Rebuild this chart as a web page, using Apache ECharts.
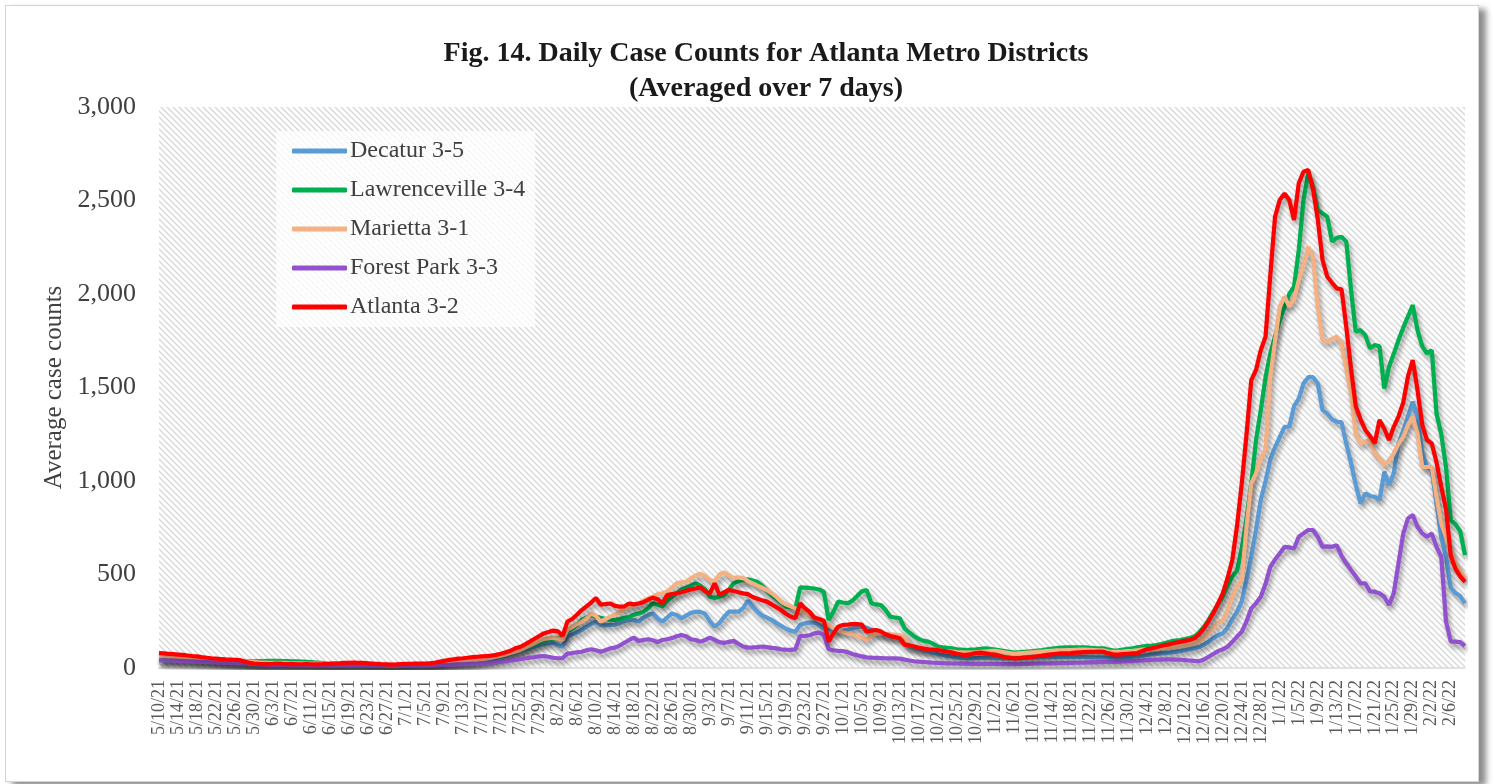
<!DOCTYPE html>
<html>
<head>
<meta charset="utf-8">
<script src="https://cdn.jsdelivr.net/npm/echarts@6/dist/echarts.min.js"></script>
<style>
  html, body { margin: 0; padding: 0; background: #fff; }
  #frame { position: absolute; left: 5px; top: 5px; width: 1472px; height: 775px; border: 1px solid #d4d4d4; box-shadow: 7px 4px 6px rgba(0,0,0,0.45); background: #fff; }
  #chart { position: absolute; left: 0; top: 0; width: 1494px; height: 784px; }
</style>
</head>
<body>
<div id="frame"></div>
<div id="chart"></div>
<script>
// daily values, 5/10/21 .. 2/9/22 (7-day averages)
const startDate = new Date(2021, 4, 10)
const dayCount = 276

const decatur = [
  50, 49, 48, 47, 46, 45, 44, 43, 42, 41,
  40, 38, 37, 35, 33, 31, 29, 27, 25, 23,
  22, 21, 20, 20, 19, 19, 19, 18, 18, 18,
  18, 17, 17, 17, 17, 16, 16, 16, 16, 16,
  16, 16, 15, 15, 15, 14, 14, 14, 14, 14,
  14, 14, 15, 15, 16, 16, 17, 18, 19, 21,
  23, 25, 27, 29, 31, 33, 35, 38, 41, 45,
  49, 54, 60, 66, 73, 80, 88, 96, 105, 114,
  122, 128, 132, 135, 120, 114, 171, 180, 190, 203,
  220, 235, 248, 230, 228, 230, 232, 240, 250, 257,
  257, 248, 270, 283, 292, 265, 248, 270, 292, 283,
  266, 280, 295, 301, 300, 290, 250, 221, 240, 274,
  301, 301, 301, 320, 361, 330, 301, 280, 270, 257,
  240, 225, 210, 200, 194, 230, 239, 243, 243, 230,
  212, 210, 205, 200, 200, 205, 212, 218, 221, 215,
  205, 195, 185, 178, 172, 168, 159, 150, 114, 108,
  100, 94, 88, 82, 76, 70, 65, 60, 56, 54,
  52, 52, 53, 54, 55, 54, 53, 52, 52, 52,
  52, 53, 54, 55, 56, 57, 58, 59, 60, 60,
  60, 60, 60, 60, 59, 58, 57, 56, 55, 55,
  55, 55, 56, 57, 58, 60, 62, 65, 68, 72,
  75, 78, 79, 82, 86, 90, 95, 100, 105, 112,
  125, 140, 160, 175, 185, 215, 260, 300, 358, 470,
  595, 738, 900, 1000, 1113, 1180, 1236, 1290, 1290, 1400,
  1440, 1522, 1555, 1555, 1522, 1379, 1361, 1330, 1317, 1315,
  1200, 1095, 980, 880, 934, 920, 916, 898, 1049, 979,
  1041, 1201, 1270, 1344, 1424, 1344, 1150, 1075, 1059, 880,
  700, 595, 430, 401, 385, 345
]

const lawrenceville = [
  42, 42, 41, 40, 40, 39, 38, 38, 37, 36,
  36, 35, 35, 34, 34, 33, 33, 33, 34, 35,
  36, 37, 37, 38, 38, 38, 37, 37, 36, 35,
  34, 33, 31, 29, 27, 25, 24, 23, 22, 22,
  21, 21, 20, 20, 19, 18, 17, 16, 16, 15,
  16, 17, 18, 18, 19, 20, 21, 23, 25, 27,
  30, 32, 34, 36, 38, 40, 42, 45, 48, 52,
  56, 60, 66, 72, 80, 88, 96, 105, 115, 125,
  135, 145, 152, 158, 160, 165, 195, 210, 230, 257,
  270, 283, 275, 268, 262, 258, 257, 262, 268, 272,
  285, 292, 300, 320, 346, 338, 330, 360, 380, 399,
  420, 430, 440, 453, 440, 420, 381, 375, 381, 390,
  420, 453, 465, 470, 474, 468, 461, 440, 415, 390,
  370, 350, 328, 325, 319, 431, 430, 428, 425, 420,
  407, 257, 300, 355, 350, 346, 360, 385, 410, 417,
  346, 340, 337, 310, 274, 270, 266, 212, 190, 170,
  155, 145, 141, 130, 115, 111, 108, 105, 100, 98,
  96, 98, 100, 103, 105, 102, 98, 94, 90, 86,
  82, 84, 86, 88, 90, 93, 96, 100, 104, 107,
  109, 110, 111, 111, 111, 110, 108, 106, 105, 105,
  98, 93, 95, 98, 102, 105, 110, 115, 118, 120,
  123, 128, 135, 142, 146, 150, 155, 160, 168, 190,
  220, 257, 300, 340, 381, 440, 490, 520, 640, 800,
  988, 1219, 1380, 1555, 1680, 1772, 1860, 1932, 2000, 2039,
  2235, 2503, 2645, 2574, 2450, 2431, 2413, 2280, 2300, 2306,
  2280, 2021, 1798, 1807, 1780, 1710, 1727, 1720, 1495, 1611,
  1680, 1754, 1820, 1880, 1941, 1807, 1720, 1682, 1700, 1361,
  1250, 1075, 791, 770, 730, 604
]

const marietta = [
  62, 60, 58, 57, 56, 55, 54, 53, 51, 49,
  47, 45, 43, 41, 40, 39, 38, 37, 36, 34,
  32, 30, 29, 28, 28, 27, 27, 26, 26, 25,
  25, 24, 24, 23, 23, 22, 22, 22, 21, 21,
  21, 20, 20, 19, 19, 18, 18, 17, 17, 17,
  17, 18, 18, 19, 19, 20, 21, 22, 24, 26,
  28, 30, 32, 34, 36, 38, 40, 43, 46, 50,
  55, 60, 66, 72, 80, 87, 95, 108, 120, 132,
  145, 155, 159, 162, 158, 150, 205, 220, 235, 248,
  265, 292, 278, 248, 262, 275, 283, 300, 315, 328,
  335, 345, 360, 372, 381, 395, 400, 408, 430, 453,
  458, 462, 480, 495, 504, 490, 470, 462, 500, 511,
  495, 481, 485, 481, 465, 453, 440, 430, 417, 400,
  380, 355, 340, 330, 319, 305, 295, 285, 274, 260,
  245, 230, 212, 200, 192, 185, 180, 170, 165, 150,
  172, 185, 185, 183, 180, 178, 175, 165, 123, 118,
  112, 108, 104, 100, 96, 92, 90, 88, 85, 84,
  82, 82, 84, 86, 88, 90, 92, 88, 84, 80,
  76, 78, 80, 82, 84, 86, 88, 90, 92, 94,
  95, 96, 96, 97, 98, 98, 97, 96, 95, 94,
  88, 86, 87, 88, 90, 92, 95, 98, 100, 102,
  104, 106, 108, 110, 114, 118, 122, 128, 135, 141,
  160, 185, 215, 240, 257, 310, 380, 440, 471, 760,
  988, 1041, 1120, 1168, 1555, 1750, 1932, 1986, 1932, 1970,
  2075, 2150, 2253, 2199, 1932, 1754, 1745, 1760, 1772, 1736,
  1600, 1468, 1254, 1201, 1210, 1219, 1147, 1120, 1084, 1110,
  1147, 1200, 1236, 1300, 1344, 1254, 1075, 1075, 1075, 916,
  773, 700, 630, 560, 520, 479
]

const forestPark = [
  42, 41, 40, 39, 38, 37, 36, 35, 34, 33,
  32, 31, 30, 29, 28, 27, 26, 25, 24, 22,
  20, 19, 18, 17, 17, 16, 16, 16, 15, 15,
  15, 15, 14, 14, 14, 14, 13, 13, 13, 13,
  13, 13, 12, 12, 12, 12, 12, 12, 11, 11,
  11, 11, 12, 12, 12, 12, 13, 13, 14, 15,
  16, 17, 18, 19, 20, 21, 22, 23, 25, 27,
  29, 31, 34, 37, 40, 43, 47, 51, 55, 58,
  62, 64, 60, 55, 52, 53, 77, 80, 84, 87,
  95, 100, 95, 87, 95, 105, 109, 120, 135, 150,
  162, 145, 150, 154, 148, 138, 150, 154, 160, 170,
  177, 170, 154, 150, 141, 150, 162, 150, 138, 134,
  140, 145, 130, 115, 109, 110, 112, 115, 112, 108,
  105, 100, 98, 97, 100, 171, 172, 175, 185, 189,
  177, 100, 95, 92, 91, 85, 75, 68, 62, 57,
  55, 54, 53, 52, 52, 51, 50, 45, 40, 36,
  34, 32, 30, 28, 27, 26, 25, 24, 24, 23,
  23, 22, 22, 22, 22, 22, 22, 21, 21, 21,
  21, 21, 22, 22, 23, 23, 24, 24, 25, 25,
  26, 26, 27, 28, 28, 29, 30, 30, 31, 32,
  32, 33, 34, 35, 36, 37, 38, 40, 42, 43,
  44, 45, 46, 46, 45, 44, 42, 40, 38, 36,
  45, 60, 75, 90, 100, 114, 140, 168, 194, 250,
  319, 346, 381, 450, 541, 580, 613, 648, 645, 639,
  702, 720, 738, 738, 702, 648, 650, 648, 657, 600,
  560, 524, 490, 453, 453, 410, 408, 400, 381, 337,
  400, 560, 720, 800, 818, 755, 720, 702, 720, 648,
  595, 250, 141, 141, 138, 118
]

const atlanta = [
  80, 78, 76, 74, 72, 70, 67, 64, 62, 58,
  55, 52, 50, 48, 46, 45, 44, 42, 35, 28,
  24, 22, 21, 21, 22, 24, 22, 21, 22, 20,
  20, 21, 20, 19, 20, 21, 22, 24, 25, 27,
  28, 29, 28, 27, 25, 23, 22, 20, 19, 18,
  19, 21, 22, 22, 23, 23, 24, 25, 28, 33,
  38, 43, 46, 50, 52, 55, 58, 60, 62, 64,
  66, 70, 76, 84, 92, 105, 112, 125, 140, 155,
  170, 185, 192, 200, 196, 172, 248, 262, 285, 310,
  330, 350, 374, 338, 342, 345, 332, 328, 330, 345,
  340, 345, 352, 365, 376, 368, 346, 390, 395, 400,
  405, 413, 420, 425, 431, 410, 399, 453, 392, 405,
  417, 412, 405, 399, 395, 380, 370, 362, 355, 340,
  325, 310, 290, 275, 266, 346, 320, 300, 268, 262,
  253, 141, 185, 221, 230, 232, 235, 235, 232, 194,
  200, 203, 195, 180, 171, 165, 159, 125, 122, 115,
  108, 104, 100, 98, 96, 92, 88, 82, 76, 72,
  70, 74, 80, 82, 78, 74, 72, 65, 58, 54,
  52, 52, 55, 57, 60, 63, 66, 70, 73, 76,
  78, 79, 80, 82, 84, 85, 86, 87, 88, 86,
  78, 72, 72, 74, 76, 78, 80, 90, 100, 105,
  111, 118, 124, 128, 135, 140, 145, 150, 159, 180,
  210, 250, 293, 345, 399, 480, 578, 760, 988, 1250,
  1540, 1594, 1700, 1772, 2100, 2413, 2503, 2538, 2503, 2396,
  2592, 2654, 2663, 2560, 2400, 2182, 2092, 2060, 2030, 2025,
  1825, 1600, 1400, 1330, 1273, 1240, 1201, 1326, 1280, 1219,
  1290, 1344, 1420, 1560, 1647, 1487, 1300, 1219, 1201, 1100,
  970, 850, 600, 530, 490, 461
]

const seriesNames = ['Decatur 3-5', 'Lawrenceville 3-4', 'Marietta 3-1', 'Forest Park 3-3', 'Atlanta 3-2']
const seriesData = [decatur, lawrenceville, marietta, forestPark, atlanta]
const seriesColors = ['#5B9BD5', '#00B050', '#F4B183', '#9252D0', '#FF0000']

const categories = []
for (let i = 0; i < dayCount; i++) {
  const d = new Date(startDate.getTime() + i * 86400000)
  categories.push((d.getMonth() + 1) + '/' + d.getDate() + '/' + String(d.getFullYear()).slice(2))
}

// hatched plot background
function hatchPattern() {
  const c = document.createElement('canvas')
  c.width = 6; c.height = 6
  const g = c.getContext('2d')
  g.fillStyle = '#ffffff'
  g.fillRect(0, 0, 6, 6)
  g.strokeStyle = '#d6d6d6'
  g.lineWidth = 1.3
  g.beginPath()
  g.moveTo(-1, -1); g.lineTo(7, 7)
  g.moveTo(-1, 5); g.lineTo(1, 7)
  g.moveTo(5, -1); g.lineTo(7, 1)
  g.stroke()
  return { image: c, repeat: 'repeat' }
}

const FONT = '"Liberation Serif", "DejaVu Serif", serif'
const chart = echarts.init(document.getElementById('chart'))

chart.setOption({
  animation: false,
  title: {
    text: 'Fig. 14. Daily Case Counts for Atlanta Metro Districts\n(Averaged over 7 days)',
    left: 761,
    top: 31,
    textAlign: 'center',
    textStyle: { fontFamily: FONT, fontSize: 28, fontWeight: 'bold', color: '#1a1a1a', lineHeight: 35 }
  },
  legend: {
    orient: 'vertical',
    left: 276,
    top: 131,
    padding: [8, 10, 8, 16],
    backgroundColor: 'rgba(255,255,255,0.75)',
    icon: 'roundRect',
    itemWidth: 55,
    itemHeight: 5,
    itemGap: 15,
    textStyle: { fontFamily: FONT, fontSize: 24, color: '#404040', lineHeight: 24, padding: [0, 0, 0, -2] },
    data: seriesNames
  },
  grid: {
    left: 159, top: 107, width: 1306, height: 561,
    show: true, borderWidth: 0,
    backgroundColor: hatchPattern()
  },
  xAxis: {
    type: 'category',
    data: categories,
    boundaryGap: false,
    axisLine: { lineStyle: { color: '#d9d9d9', width: 1.5 } },
    axisTick: { show: false },
    axisLabel: { interval: 3, rotate: 90, margin: 12, fontFamily: FONT, fontSize: 18, color: '#595959' },
    splitLine: { show: false }
  },
  yAxis: {
    type: 'value',
    min: 0, max: 3000, interval: 500,
    name: 'Average case counts',
    nameLocation: 'middle',
    nameGap: 84,
    nameTextStyle: { fontFamily: FONT, fontSize: 25, color: '#404040' },
    axisLine: { show: false },
    axisTick: { show: false },
    splitLine: { show: false },
    axisLabel: {
      margin: 23, fontFamily: FONT, fontSize: 26, color: '#404040',
      formatter: v => v.toLocaleString('en-US')
    }
  },
  series: seriesNames.map((name, k) => ({
    name: name,
    type: 'line',
    data: seriesData[k],
    symbol: 'none',
    color: seriesColors[k],
    lineStyle: {
      width: 4.2, color: seriesColors[k],
      shadowColor: 'rgba(0,0,0,0.4)', shadowBlur: 5, shadowOffsetX: 2, shadowOffsetY: 4
    }
  }))
})
</script>
</body>
</html>
